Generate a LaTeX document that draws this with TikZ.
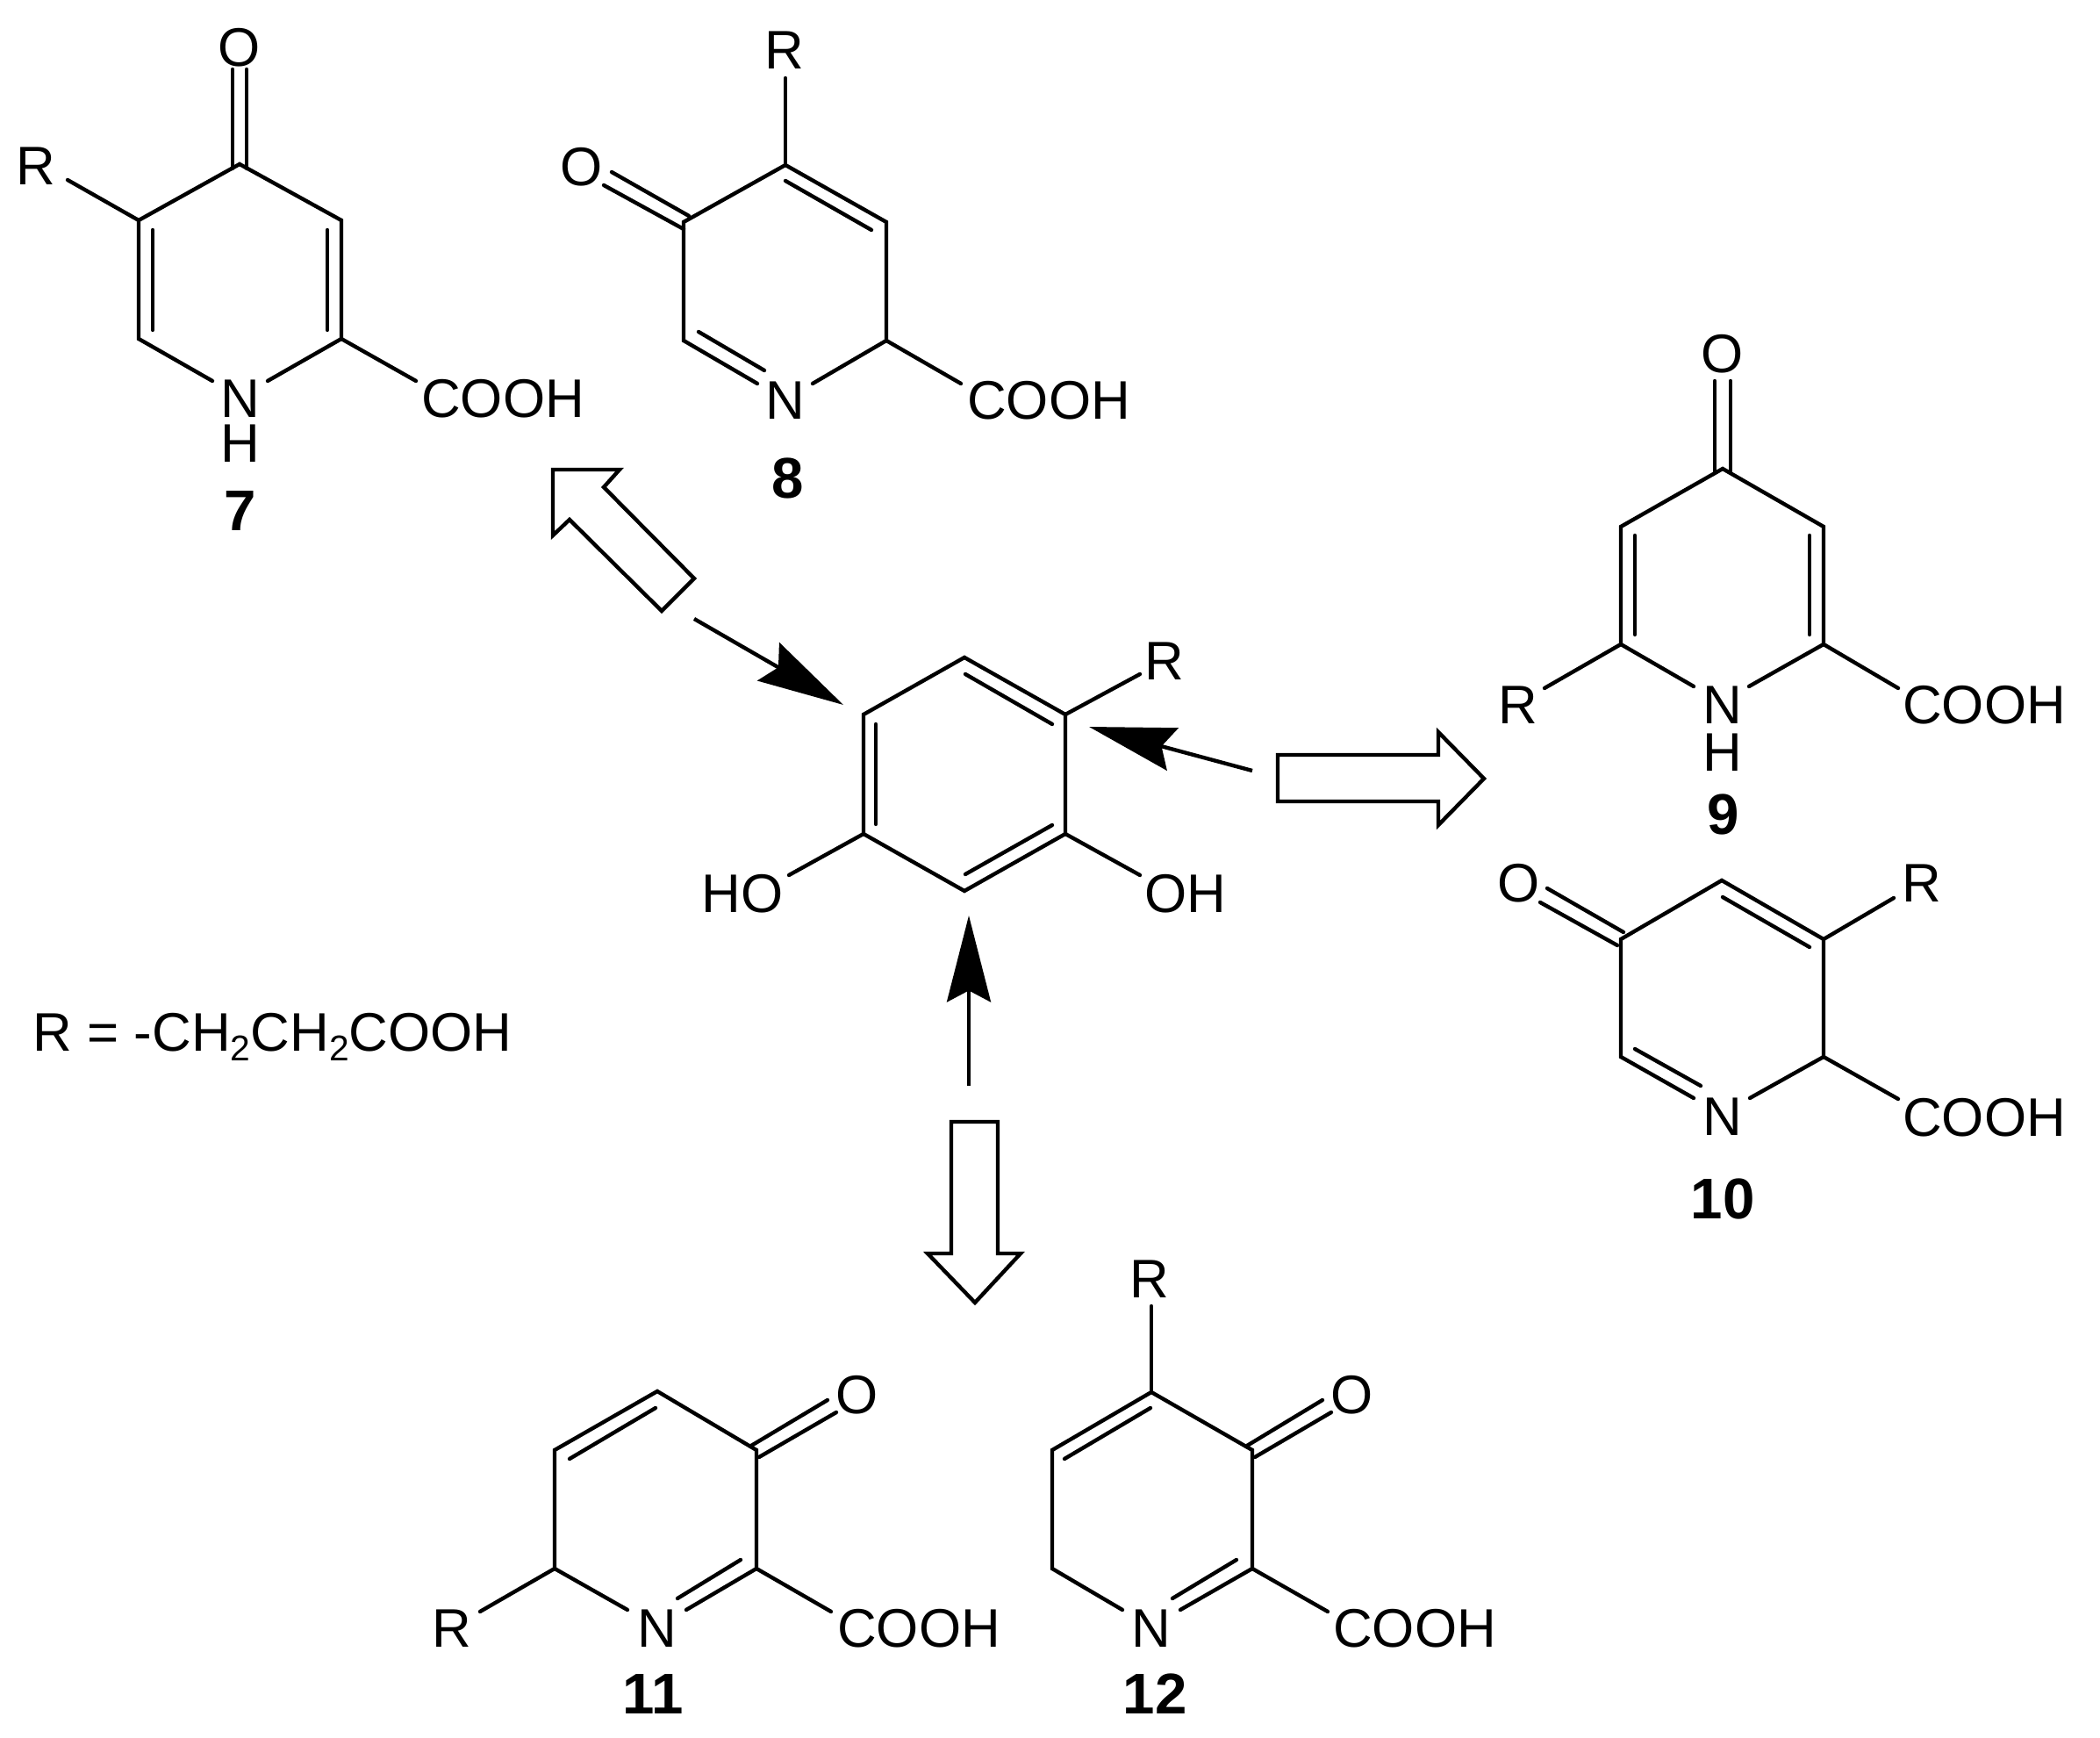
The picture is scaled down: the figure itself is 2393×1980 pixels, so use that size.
\documentclass[tikz,border=0pt]{standalone}
\usepackage{fontspec}
\setmainfont{Liberation Sans}
\usetikzlibrary{arrows.meta}
\tikzset{
  bond/.style={line width=1.25pt,line cap=round,line join=miter,black},
  atom/.style={inner sep=0pt,text height=12.6pt,text depth=0pt,font=\fontsize{17.6}{20}\selectfont,text=black},
  num/.style={inner sep=0pt,text height=13.3pt,text depth=0pt,font=\fontsize{18.6}{20}\selectfont\bfseries,text=black},
  solidarrow/.style={line width=1.25pt,black,-{Stealth[length=28pt,width=14.2pt,inset=3.7pt]}},
  openarrow/.style={line width=1.25pt,line join=miter,draw=black,fill=white}
}
\begin{document}
\begin{tikzpicture}[x=0.01cm,y=-0.01cm]
\useasboundingbox[fill=white] (0,0) rectangle (2393,1980);

% ---------- compound 7
\node[atom] (o7) at (273,53) {O};
\node[atom] (r7) at (41,188) {R};
\node[atom] (n7) at (274,453) {N};
\node[atom] (h7) at (274,504) {H};
\node[atom] (cooh7) at (573,453) {COOH};
\node[num] (l7) at (274,581) {7};
\coordinate (a7t) at (273,187);
\coordinate (a7ul) at (158,251);
\coordinate (a7ur) at (389,251);
\coordinate (a7ll) at (158,386);
\coordinate (a7lr) at (389,386);
\coordinate (e7nl) at (242,434);
\coordinate (e7nr) at (305,434);
\coordinate (e7c) at (474,434);
\coordinate (e7r) at (77,205);
\draw[bond] (e7nl) -- (a7ll) -- (a7ul) -- (a7t) -- (a7ur) -- (a7lr) -- (e7nr);
\draw[bond] (a7lr) -- (e7c);
\draw[bond] (a7ul) -- (e7r);
\coordinate (d7a1) at (174,262); \coordinate (d7a2) at (174,376);
\coordinate (d7b1) at (373,262); \coordinate (d7b2) at (373,376);
\coordinate (d7c1) at (265,79); \coordinate (d7c2) at (265,192);
\coordinate (d7d1) at (281,79); \coordinate (d7d2) at (281,192);
\draw[bond] (d7a1) -- (d7a2);
\draw[bond] (d7b1) -- (d7b2);
\draw[bond] (d7c1) -- (d7c2);
\draw[bond] (d7d1) -- (d7d2);

% ---------- compound 8
\node[atom] (r8) at (894,56) {R};
\node[atom] (o8) at (663,189) {O};
\node[atom] (n8) at (895,455) {N};
\node[atom] (cooh8) at (1195,455) {COOH};
\node[num] (l8) at (898,544) {8};
\coordinate (a8t) at (895,188);
\coordinate (a8ul) at (779,253);
\coordinate (a8ur) at (1010,253);
\coordinate (a8ll) at (779,388);
\coordinate (a8lr) at (1010,388);
\coordinate (e8nl) at (863,437);
\coordinate (e8nr) at (926,437);
\coordinate (e8c) at (1095,437);
\coordinate (e8r) at (895,89);
\draw[bond] (e8nl) -- (a8ll) -- (a8ul) -- (a8t) -- (a8ur) -- (a8lr) -- (e8nr);
\draw[bond] (a8lr) -- (e8c);
\draw[bond] (a8t) -- (e8r);
\coordinate (d8a1) at (895,206); \coordinate (d8a2) at (993,262);
\coordinate (d8b1) at (796,378); \coordinate (d8b2) at (871,422);
\coordinate (d8c1) at (697,196); \coordinate (d8c2) at (785,246);
\coordinate (d8d1) at (688,211); \coordinate (d8d2) at (779,261);
\draw[bond] (d8a1) -- (d8a2);
\draw[bond] (d8b1) -- (d8b2);
\draw[bond] (d8c1) -- (d8c2);
\draw[bond] (d8d1) -- (d8d2);

% ---------- central compound
\node[atom] (rc) at (1327,752) {R};
\node[atom] (ho) at (846,1017) {HO};
\node[atom] (oh) at (1351,1017) {OH};
\coordinate (act) at (1099,749);
\coordinate (acul) at (984,814);
\coordinate (acur) at (1214,814);
\coordinate (acll) at (984,950);
\coordinate (aclr) at (1214,950);
\coordinate (acb) at (1099,1015);
\coordinate (ecr) at (1299,768);
\coordinate (echo) at (899,997);
\coordinate (ecoh) at (1299,997);
\draw[bond] (act) -- (acur) -- (aclr) -- (acb) -- (acll) -- (acul) -- cycle;
\draw[bond] (acur) -- (ecr);
\draw[bond] (acll) -- (echo);
\draw[bond] (aclr) -- (ecoh);
\coordinate (dca1) at (1100,768); \coordinate (dca2) at (1199,825);
\coordinate (dcb1) at (998,825); \coordinate (dcb2) at (998,939);
\coordinate (dcc1) at (1100,996); \coordinate (dcc2) at (1199,940);
\draw[bond] (dca1) -- (dca2);
\draw[bond] (dcb1) -- (dcb2);
\draw[bond] (dcc1) -- (dcc2);

% ---------- solid arrows
\coordinate (s1a) at (791,705); \coordinate (s1b) at (961,803);
\coordinate (s2a) at (1427,878); \coordinate (s2b) at (1241,828);
\coordinate (s3a) at (1104,1237); \coordinate (s3b) at (1104,1043);
\draw[solidarrow] (s1a) -- (s1b);
\draw[solidarrow] (s2a) -- (s2b);
\draw[solidarrow] (s3a) -- (s3b);

% ---------- open arrows
\draw[openarrow] (630,535) -- (706,535) -- (688,555) -- (791,659) -- (754,696) -- (649,592) -- (630,610) -- cycle;
\draw[openarrow] (1456,860) -- (1639,860) -- (1639,834) -- (1691,887) -- (1639,940) -- (1639,913) -- (1456,913) -- cycle;
\draw[openarrow] (1084,1278) -- (1137,1278) -- (1137,1428) -- (1163,1428) -- (1111,1484) -- (1057,1428) -- (1084,1428) -- cycle;

% ---------- compound 9
\node[atom] (o9) at (1963,402) {O};
\node[atom] (r9) at (1730,802) {R};
\node[atom] (n9) at (1963,802) {N};
\node[atom] (h9) at (1963,856) {H};
\node[atom] (cooh9) at (2261,802) {COOH};
\node[num] (l9) at (1964,927) {9};
\coordinate (a9t) at (1963,534);
\coordinate (a9ul) at (1847,600);
\coordinate (a9ur) at (2078,600);
\coordinate (a9ll) at (1847,734);
\coordinate (a9lr) at (2078,734);
\coordinate (e9nl) at (1930,782);
\coordinate (e9nr) at (1993,782);
\coordinate (e9c) at (2163,784);
\coordinate (e9r) at (1760,784);
\draw[bond] (e9nl) -- (a9ll) -- (a9ul) -- (a9t) -- (a9ur) -- (a9lr) -- (e9nr);
\draw[bond] (a9lr) -- (e9c);
\draw[bond] (a9ll) -- (e9r);
\coordinate (d9a1) at (1863,610); \coordinate (d9a2) at (1863,723);
\coordinate (d9b1) at (2062,610); \coordinate (d9b2) at (2062,723);
\coordinate (d9c1) at (1954,434); \coordinate (d9c2) at (1954,538);
\coordinate (d9d1) at (1972,434); \coordinate (d9d2) at (1972,538);
\draw[bond] (d9a1) -- (d9a2);
\draw[bond] (d9b1) -- (d9b2);
\draw[bond] (d9c1) -- (d9c2);
\draw[bond] (d9d1) -- (d9d2);

% ---------- compound 10
\node[atom] (o10) at (1731,1005) {O};
\node[atom] (r10) at (2190,1005) {R};
\node[atom] (n10) at (1963,1271) {N};
\node[atom] (cooh10) at (2261,1272) {COOH};
\node[num] (l10) at (1963,1365) {10};
\coordinate (a10t) at (1962,1003);
\coordinate (a10ul) at (1847,1070);
\coordinate (a10ur) at (2078,1070);
\coordinate (a10ll) at (1847,1204);
\coordinate (a10lr) at (2078,1204);
\coordinate (e10nl) at (1930,1251);
\coordinate (e10nr) at (1994,1251);
\coordinate (e10c) at (2163,1252);
\coordinate (e10r) at (2158,1023);
\draw[bond] (e10nl) -- (a10ll) -- (a10ul) -- (a10t) -- (a10ur) -- (a10lr) -- (e10nr);
\draw[bond] (a10lr) -- (e10c);
\draw[bond] (a10ur) -- (e10r);
\coordinate (d10a1) at (1963,1022); \coordinate (d10a2) at (2062,1079);
\coordinate (d10b1) at (1863,1195); \coordinate (d10b2) at (1938,1237);
\coordinate (d10c1) at (1763,1012); \coordinate (d10c2) at (1850,1062);
\coordinate (d10d1) at (1755,1028); \coordinate (d10d2) at (1843,1077);
\draw[bond] (d10a1) -- (d10a2);
\draw[bond] (d10b1) -- (d10b2);
\draw[bond] (d10c1) -- (d10c2);
\draw[bond] (d10d1) -- (d10d2);

% ---------- compound 11
\node[atom] (o11) at (977,1588) {O};
\node[atom] (r11) at (515,1854) {R};
\node[atom] (n11) at (749,1854) {N};
\node[atom] (cooh11) at (1047,1854) {COOH};
\node[num] (l11) at (744,1929) {11};
\coordinate (a11t) at (749,1585);
\coordinate (a11ul) at (632,1652);
\coordinate (a11ur) at (862,1652);
\coordinate (a11ll) at (632,1787);
\coordinate (a11lr) at (862,1787);
\coordinate (e11nl) at (715,1834);
\coordinate (e11nr) at (782,1834);
\coordinate (e11c) at (947,1836);
\coordinate (e11r) at (547,1836);
\draw[bond] (e11nl) -- (a11ll) -- (a11ul) -- (a11t) -- (a11ur) -- (a11lr) -- (e11nr);
\draw[bond] (a11lr) -- (e11c);
\draw[bond] (a11ll) -- (e11r);
\coordinate (d11a1) at (747,1604); \coordinate (d11a2) at (649,1662);
\coordinate (d11b1) at (844,1777); \coordinate (d11b2) at (772,1821);
\coordinate (d11c1) at (943,1595); \coordinate (d11c2) at (856,1647);
\coordinate (d11d1) at (953,1609); \coordinate (d11d2) at (865,1660);
\draw[bond] (d11a1) -- (d11a2);
\draw[bond] (d11b1) -- (d11b2);
\draw[bond] (d11c1) -- (d11c2);
\draw[bond] (d11d1) -- (d11d2);

% ---------- compound 12
\node[atom] (r12) at (1310,1456) {R};
\node[atom] (o12) at (1541,1588) {O};
\node[atom] (n12) at (1312,1854) {N};
\node[atom] (cooh12) at (1612,1854) {COOH};
\node[num] (l12) at (1316,1929) {12};
\coordinate (a12t) at (1312,1586);
\coordinate (a12ul) at (1199,1652);
\coordinate (a12ur) at (1427,1652);
\coordinate (a12ll) at (1199,1787);
\coordinate (a12lr) at (1427,1787);
\coordinate (e12nl) at (1279,1834);
\coordinate (e12nr) at (1345,1834);
\coordinate (e12c) at (1513,1836);
\coordinate (e12r) at (1312,1488);
\draw[bond] (e12nl) -- (a12ll) -- (a12ul) -- (a12t) -- (a12ur) -- (a12lr) -- (e12nr);
\draw[bond] (a12lr) -- (e12c);
\draw[bond] (a12t) -- (e12r);
\coordinate (d12a1) at (1311,1604); \coordinate (d12a2) at (1213,1662);
\coordinate (d12b1) at (1409,1777); \coordinate (d12b2) at (1336,1821);
\coordinate (d12c1) at (1507,1595); \coordinate (d12c2) at (1421,1647);
\coordinate (d12d1) at (1517,1609); \coordinate (d12d2) at (1430,1660);
\draw[bond] (d12a1) -- (d12a2);
\draw[bond] (d12b1) -- (d12b2);
\draw[bond] (d12c1) -- (d12c2);
\draw[bond] (d12d1) -- (d12d2);

% ---------- legend
\node[atom,anchor=west] (legend) at (37,1175) {R = -CH\raisebox{-0.18em}{\fontsize{11.6}{12}\selectfont 2}CH\raisebox{-0.18em}{\fontsize{11.6}{12}\selectfont 2}COOH};
\end{tikzpicture}
\end{document}
